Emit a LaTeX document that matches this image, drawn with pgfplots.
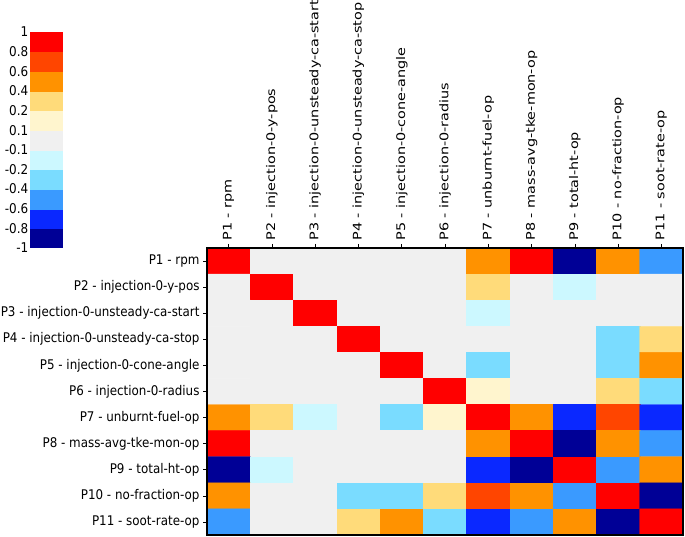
\documentclass[border=0pt]{standalone}
\usepackage{fontspec}
\setmainfont{DejaVu Sans}
\newfontfamily\colfont[FakeStretch=1.21]{DejaVu Sans}
\usepackage{graphicx}
\usepackage{pgfplots}
\pgfplotsset{compat=1.18}
\newcommand{\R}[1]{\scalebox{1}[1.12]{#1}}
\definecolor{cN}{RGB}{0,0,150}
\definecolor{cB}{RGB}{10,40,255}
\definecolor{cM}{RGB}{58,154,255}
\definecolor{cL}{RGB}{122,220,255}
\definecolor{cC}{RGB}{204,248,255}
\definecolor{cG}{RGB}{240,240,240}
\definecolor{cY}{RGB}{255,245,206}
\definecolor{cO}{RGB}{255,219,122}
\definecolor{cA}{RGB}{255,146,0}
\definecolor{cR}{RGB}{255,69,0}
\definecolor{cX}{RGB}{255,0,0}
\pgfplotsset{
  colormap={corr}{color(0cm)=(cN) color(2cm)=(cB) color(4cm)=(cM) color(6cm)=(cL)
    color(8cm)=(cC) color(9cm)=(cG) color(11cm)=(cY) color(12cm)=(cO)
    color(14cm)=(cA) color(16cm)=(cR) color(18cm)=(cX) color(20cm)=(cX)},
}
\pgfplotstableread{
x y c
1 1 1
2 1 0.02
3 1 0.01
4 1 0.0
5 1 -0.02
6 1 0.03
7 1 0.52
8 1 0.93
9 1 -0.92
10 1 0.51
11 1 -0.48
1 2 0.02
2 2 1
3 2 0.0
4 2 0.01
5 2 0.02
6 2 -0.01
7 2 0.3
8 2 0.04
9 2 -0.15
10 2 0.03
11 2 0.02
1 3 0.01
2 3 0.0
3 3 1
4 3 0.02
5 3 -0.01
6 3 0.0
7 3 -0.15
8 3 0.01
9 3 0.05
10 3 0.02
11 3 0.04
1 4 0.0
2 4 0.01
3 4 0.02
4 4 1
5 4 0.01
6 4 -0.02
7 4 0.05
8 4 0.02
9 4 -0.03
10 4 -0.3
11 4 0.3
1 5 -0.02
2 5 0.02
3 5 -0.01
4 5 0.01
5 5 1
6 5 0.0
7 5 -0.3
8 5 0.0
9 5 0.06
10 5 -0.3
11 5 0.5
1 6 0.03
2 6 -0.01
3 6 0.0
4 6 -0.02
5 6 0.0
6 6 1
7 6 0.15
8 6 0.03
9 6 -0.05
10 6 0.3
11 6 -0.3
1 7 0.52
2 7 0.3
3 7 -0.15
4 7 0.05
5 7 -0.3
6 7 0.15
7 7 1
8 7 0.5
9 7 -0.7
10 7 0.7
11 7 -0.7
1 8 0.93
2 8 0.04
3 8 0.01
4 8 0.02
5 8 0.0
6 8 0.03
7 8 0.5
8 8 1
9 8 -0.9
10 8 0.5
11 8 -0.5
1 9 -0.92
2 9 -0.15
3 9 0.05
4 9 -0.03
5 9 0.06
6 9 -0.05
7 9 -0.7
8 9 -0.9
9 9 1
10 9 -0.5
11 9 0.5
1 10 0.51
2 10 0.03
3 10 0.02
4 10 -0.3
5 10 -0.3
6 10 0.3
7 10 0.7
8 10 0.5
9 10 -0.5
10 10 1
11 10 -0.9
1 11 -0.48
2 11 0.02
3 11 0.04
4 11 0.3
5 11 0.5
6 11 -0.3
7 11 -0.7
8 11 -0.5
9 11 0.5
10 11 -0.9
11 11 1
}\corrtable
\pgfplotstableread{
x y c
0 0.5 -0.9
2 0.5 -0.9
0 1.5 -0.7
2 1.5 -0.7
0 2.5 -0.5
2 2.5 -0.5
0 3.5 -0.3
2 3.5 -0.3
0 4.5 -0.15
2 4.5 -0.15
0 5.5 0
2 5.5 0
0 6.5 0.15
2 6.5 0.15
0 7.5 0.3
2 7.5 0.3
0 8.5 0.5
2 8.5 0.5
0 9.5 0.7
2 9.5 0.7
0 10.5 0.9
2 10.5 0.9
}\cbtable
\begin{document}
\begin{tikzpicture}
\useasboundingbox (0,0) rectangle (685pt,537pt);
\begin{axis}[
  at={(207pt,2pt)}, anchor=south west,
  width=476pt, height=287pt, scale only axis,
  xmin=0.5, xmax=11.5, ymin=0.5, ymax=11.5,
  y dir=reverse,
  colormap name=corr, colormap access=piecewise constant,
  point meta min=-1, point meta max=1,
  xtick={1,...,11}, ytick={1,...,11},
  xtick pos=right, xticklabel pos=right,
  ytick pos=left, yticklabel pos=left,
  tick align=outside, major tick length=4pt,
  tick style={black, line width=0.6pt},
  axis line style={black, line width=1.4pt},
  y tick label style={font=\fontsize{11.9}{14}\selectfont},
  x tick label style={font=\colfont\fontsize{11.9}{14}\selectfont, rotate=90, anchor=west},
  xticklabels={P1 - rpm, P2 - injection-0-y-pos, P3 - injection-0-unsteady-ca-start,
    P4 - injection-0-unsteady-ca-stop, P5 - injection-0-cone-angle, P6 - injection-0-radius,
    P7 - unburnt-fuel-op, P8 - mass-avg-tke-mon-op, P9 - total-ht-op, P10 - no-fraction-op,
    P11 - soot-rate-op},
  yticklabels={\R{P1 - rpm}, \R{P2 - injection-0-y-pos}, \R{P3 - injection-0-unsteady-ca-start},
    \R{P4 - injection-0-unsteady-ca-stop}, \R{P5 - injection-0-cone-angle}, \R{P6 - injection-0-radius},
    \R{P7 - unburnt-fuel-op}, \R{P8 - mass-avg-tke-mon-op}, \R{P9 - total-ht-op}, \R{P10 - no-fraction-op},
    \R{P11 - soot-rate-op}},
  axis on top,
]
\addplot[matrix plot*, mesh/cols=11, point meta=explicit] table[x=x, y=y, meta=c] {\corrtable};
\end{axis}
\begin{axis}[
  at={(30pt,289pt)}, anchor=south west,
  width=33pt, height=216pt, scale only axis,
  xmin=-1, xmax=1, ymin=0, ymax=11,
  colormap name=corr, colormap access=piecewise constant,
  point meta min=-1, point meta max=1,
  xtick=\empty, ytick={0,...,11},
  yticklabels={\R{-1},\R{-0.8},\R{-0.6},\R{-0.4},\R{-0.2},\R{-0.1},\R{0.1},\R{0.2},\R{0.4},\R{0.6},\R{0.8},\R{1}},
  major tick length=0pt,
  axis line style={draw=none},
  tick label style={font=\fontsize{12}{14}\selectfont},
  yticklabel style={inner sep=1.5pt},
]
\addplot[matrix plot*, mesh/cols=2, point meta=explicit] table[x=x, y=y, meta=c] {\cbtable};
\end{axis}
\end{tikzpicture}
\end{document}
